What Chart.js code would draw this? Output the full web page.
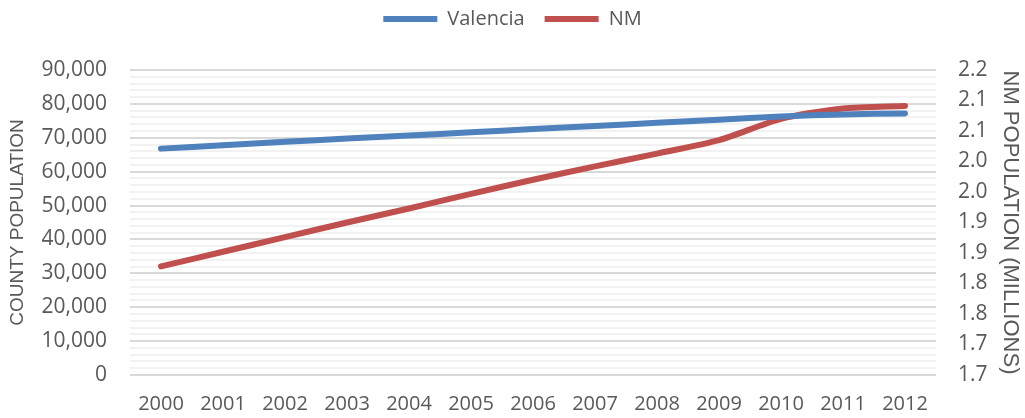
<!DOCTYPE html>
<html>
<head>
<meta charset="utf-8">
<script src="https://cdn.jsdelivr.net/npm/chart.js@4"></script>
<style>
  html, body { margin: 0; padding: 0; background: #fff; }
  #wrap { width: 1025px; height: 418px; }
</style>
</head>
<body>
<div id="wrap"><canvas id="chart"></canvas></div>
<script>
const years = ['2000', '2001', '2002', '2003', '2004', '2005', '2006', '2007', '2008', '2009', '2010', '2011', '2012'];
const valencia = [66800, 67800, 68800, 69800, 70700, 71600, 72600, 73500, 74400, 75300, 76300, 76900, 77200];
const nm = [1.878, 1.902, 1.926, 1.950, 1.973, 1.997, 2.020, 2.042, 2.063, 2.085, 2.120, 2.137, 2.141];
const nmTickLabels = ['1.7', '1.7', '1.8', '1.8', '1.9', '1.9', '2.0', '2.0', '2.1', '2.1', '2.2'];

const textColor = '#595959';
const sans = "'Open Sans', sans-serif";

// extra room between the legend and the plot; legend nudged up
const legendSpace = {
    id: 'legendSpace',
    beforeInit(chart) {
        const fit = chart.legend.fit;
        chart.legend.fit = function () {
            fit.bind(chart.legend)();
            this.height += 20;
        };
    },
    afterLayout(chart) {
        chart.legend.top -= 11;
    }
};

const ctx = document.getElementById('chart').getContext('2d');
const chart = new Chart(ctx, {
    type: 'line',
    data: {
        labels: years,
        datasets: [{
            label: 'Valencia',
            data: valencia,
            yAxisID: 'y',
            borderColor: '#4F81BD',
            backgroundColor: '#4F81BD',
            borderWidth: 6,
            borderCapStyle: 'round',
            borderJoinStyle: 'round',
            pointRadius: 0,
            tension: 0.25
        }, {
            label: 'NM',
            data: nm,
            yAxisID: 'y1',
            borderColor: '#C0504D',
            backgroundColor: '#C0504D',
            borderWidth: 6,
            borderCapStyle: 'round',
            borderJoinStyle: 'round',
            pointRadius: 0,
            tension: 0.25
        }]
    },
    options: {
        responsive: true,
        maintainAspectRatio: false,
        animation: false,
        layout: { padding: 0 },
        plugins: {
            legend: {
                display: true,
                position: 'top',
                labels: {
                    usePointStyle: true,
                    pointStyle: 'line',
                    pointStyleWidth: 54,
                    color: textColor,
                    font: { family: sans, size: 20 },
                    padding: 20
                }
            },
            tooltip: { enabled: false }
        },
        scales: {
            x: {
                offset: true,
                grid: { display: false, drawTicks: false },
                border: { display: false },
                ticks: {
                    color: textColor,
                    font: { family: sans, size: 20 },
                    padding: 17,
                    maxRotation: 0,
                    autoSkip: false
                },
                afterFit(scale) { scale.height = 43; }
            },
            y: {
                position: 'left',
                min: 0,
                max: 90000,
                grid: {
                    drawTicks: false,
                    lineWidth: 2,
                    color: (c) => (c.tick && c.tick.value % 10000 === 0) ? '#d9d9d9' : '#f2f2f2'
                },
                border: { display: false },
                ticks: {
                    stepSize: 2000,
                    maxTicksLimit: 100,
                    autoSkip: false,
                    color: textColor,
                    font: { family: sans, size: 21 },
                    padding: 23,
                    callback: (v) => v % 10000 === 0 ? v.toLocaleString('en-US') : ''
                },
                title: {
                    display: true,
                    text: 'COUNTY POPULATION',
                    color: textColor,
                    font: { family: "'Liberation Sans', sans-serif", size: 19 },
                    padding: { top: 6, bottom: 0 }
                },
                afterFit(scale) { scale.width = 130; }
            },
            y1: {
                position: 'right',
                min: 1.7,
                max: 2.2,
                grid: { display: false, drawTicks: false },
                border: { display: false },
                ticks: {
                    stepSize: 0.05,
                    autoSkip: false,
                    color: textColor,
                    font: { family: sans, size: 21 },
                    padding: 22,
                    callback: (v, i) => nmTickLabels[i]
                },
                title: {
                    display: true,
                    text: 'NM POPULATION (MILLIONS)',
                    color: textColor,
                    font: { family: "'Liberation Sans', sans-serif", size: 22 },
                    padding: { top: 2, bottom: 0 }
                },
                afterFit(scale) { scale.width = 89; }
            }
        }
    },
    plugins: [legendSpace]
});
</script>
</body>
</html>
